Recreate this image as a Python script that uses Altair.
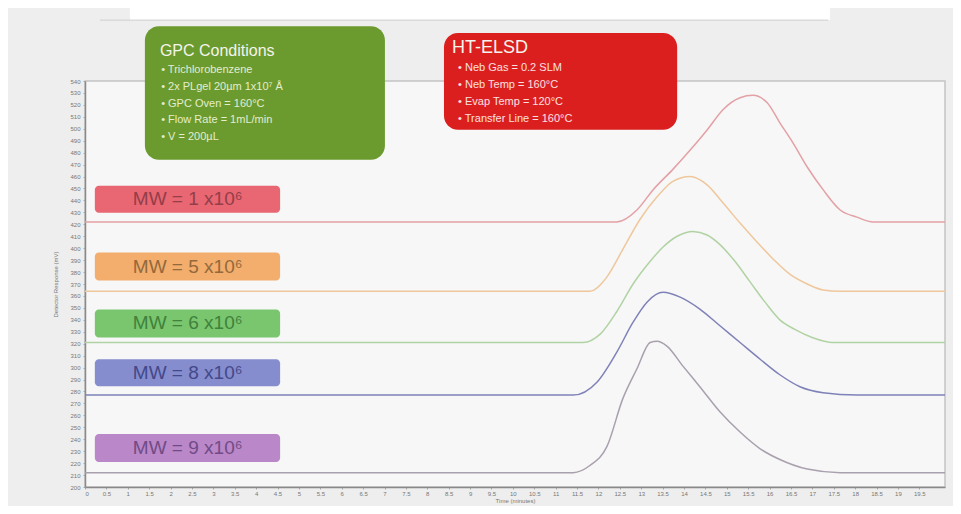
import altair as alt
import pandas as pd

# ---------------- data ----------------
series_names = ["MW = 1 x10⁶", "MW = 5 x10⁶", "MW = 6 x10⁶", "MW = 8 x10⁶", "MW = 9 x10⁶"]

red_t = [0, 12.43, 12.90, 13.28, 13.74, 14.14, 14.54, 14.91, 15.31, 15.61, 15.94, 16.24, 16.55, 16.88, 17.25, 17.65, 18.04, 18.42, 20.1]
red_v = [422, 422, 432, 449, 466, 482, 499, 516, 526, 528, 522, 505, 488, 468, 449, 432, 426, 422, 422]

orange_t = [0, 11.80, 12.20, 12.57, 12.97, 13.37, 13.74, 14.14, 14.54, 14.91, 15.31, 15.71, 16.08, 16.48, 16.88, 17.25, 17.65, 20.1]
orange_v = [364, 364, 376, 399, 424, 443, 456, 460, 453, 438, 421, 405, 391, 378, 370, 365, 364, 364]

green_t = [0, 11.64, 12.04, 12.43, 12.81, 13.21, 13.51, 13.84, 14.21, 14.54, 14.84, 15.19, 15.54, 15.89, 16.24, 16.59, 17.01, 17.48, 20.1]
green_v = [321, 321, 328, 347, 370, 389, 401, 410, 414, 411, 403, 389, 372, 355, 340, 332, 325, 321, 321]

blue_t = [0, 11.41, 11.97, 12.43, 12.81, 13.14, 13.51, 13.91, 14.37, 14.84, 15.31, 15.78, 16.24, 16.71, 17.25, 18.04, 20.1]
blue_v = [277, 277, 288, 313, 338, 355, 363, 359, 349, 335, 321, 307, 294, 284, 279, 277, 277]

purple_t = [0, 11.41, 11.80, 12.20, 12.57, 12.90, 13.21, 13.37, 13.60, 13.98, 14.37, 14.84, 15.31, 15.78, 16.24, 16.88, 17.65, 20.1]
purple_v = [212, 212, 218, 234, 274, 299, 321, 322, 318, 301, 284, 263, 246, 232, 223, 215, 212, 212]

x_ticks = [i * 0.5 for i in range(40)]          # 0 .. 19.5
y_ticks = list(range(200, 541, 10))             # 200 .. 540

gpc_title = "GPC Conditions"
gpc_items = ["Trichlorobenzene", "2x PLgel 20µm 1x10⁷ Å", "GPC Oven = 160°C",
             "Flow Rate = 1mL/min", "V = 200µL"]
elsd_title = "HT-ELSD"
elsd_items = ["Neb Gas = 0.2 SLM", "Neb Temp = 160°C", "Evap Temp = 120°C",
              "Transfer Line = 160°C"]

# ---------------- styles / layout ----------------
line_colors = ["#e3a0a5", "#efc79c", "#b1d3a4", "#7f82b8", "#a9a0ae"]
box_fill = ["#e85f6b", "#f2aa66", "#72c367", "#8087cb", "#b682c5"]
box_text = ["#8a3a44", "#8a6236", "#3a7a36", "#3c4282", "#6a4580"]

X_DOM = [0, 20.1]
Y_DOM = [200, 540]
xs = alt.Scale(domain=X_DOM, nice=False, zero=False)
ys = alt.Scale(domain=Y_DOM, nice=False, zero=False)
FONT = "Liberation Sans"

# ---------------- tables ----------------
rows = []
for name, ts, vs in zip(series_names,
                        [red_t, orange_t, green_t, blue_t, purple_t],
                        [red_v, orange_v, green_v, blue_v, purple_v]):
    for t, v in zip(ts, vs):
        rows.append({"series": name, "time": t, "value": v})
curves = pd.DataFrame(rows)

mw_y = [(452.3, 429.7), (396.3, 372.9), (348.7, 325.3), (306.9, 284.4), (244.3, 220.9)]
mw_df = pd.DataFrame({
    "label": series_names,
    "x": [0.23] * 5, "x2": [4.56] * 5,
    "y": [a for a, b in mw_y], "y2": [b for a, b in mw_y],
    "tx": [2.40] * 5, "ty": [(a + b) / 2 for a, b in mw_y],
    "fill": box_fill, "tcol": box_text,
})

cond_boxes = pd.DataFrame({
    "x": [1.40, 8.39], "x2": [7.01, 13.84],
    "y": [585.9, 580.1], "y2": [474.0, 499.1],
    "fill": ["#6b9b2e", "#db1f1f"],
})
cond_titles = pd.DataFrame({
    "text": [gpc_title, elsd_title],
    "x": [1.75, 8.58], "y": [565.5, 568.0], "size": [16, 18],
})
gpc_y = [549.0, 535.0, 521.0, 507.0, 493.0]
elsd_y = [551.0, 537.0, 522.5, 508.0]
cond_items = pd.DataFrame({
    "text": ["•   " + s for s in gpc_items] + ["•   " + s for s in elsd_items],
    "x": [1.78] * len(gpc_items) + [8.72] * len(elsd_items),
    "y": gpc_y + elsd_y,
    "col": ["#e3edcf"] * len(gpc_items) + ["#fbe0e0"] * len(elsd_items),
})
banner = pd.DataFrame({"x": [1.05], "x2": [17.41], "y": [603.0], "y2": [591.0]})
banner_line = pd.DataFrame({"x": [0.35], "x2": [17.37], "y": [591.0]})

# ---------------- axes ----------------
base_x_axis = alt.Axis(values=x_ticks, format="~g", labelFontSize=6, labelColor="#777",
                       labelFont=FONT, labelOverlap=False, labelPadding=1, tickSize=2,
                       tickColor="#aaa", domainColor="#8a8a8a", domainWidth=1.5,
                       grid=False, title="Time (minutes)", titleFontSize=6,
                       titleFont=FONT, titleFontWeight="normal", titleColor="#777",
                       titlePadding=1)
base_y_axis = alt.Axis(values=y_ticks, labelFontSize=6, labelColor="#777", labelFont=FONT,
                       labelOverlap=False, labelPadding=3, tickSize=2, tickColor="#aaa",
                       domainColor="#8a8a8a", domainWidth=1.5, grid=False,
                       title="Detector Response (mV)", titleFontSize=6, titleFont=FONT,
                       titleFontWeight="normal", titleColor="#777", titlePadding=11)


def X(f):
    return alt.X(f, scale=xs, axis=base_x_axis)


def Y(f):
    return alt.Y(f, scale=ys, axis=base_y_axis)


# ---------------- layers ----------------
lines = alt.Chart(curves).mark_line(interpolate="monotone", strokeWidth=1.5).encode(
    x=X("time:Q"),
    y=Y("value:Q"),
    color=alt.Color("series:N", scale=alt.Scale(domain=series_names, range=line_colors),
                    legend=None),
)

banner_rect = alt.Chart(banner).mark_rect(color="#ffffff").encode(
    x=X("x:Q"), x2="x2", y=Y("y:Q"), y2="y2")
banner_rule = alt.Chart(banner_line).mark_rule(color="#cfcfcf", strokeWidth=1).encode(
    x=X("x:Q"), x2="x2", y=Y("y:Q"))

mw_rects = alt.Chart(mw_df).mark_rect(cornerRadius=4, opacity=0.95).encode(
    x=X("x:Q"), x2="x2", y=Y("y:Q"), y2="y2",
    color=alt.Color("fill:N", scale=None))
mw_texts = alt.Chart(mw_df).mark_text(font=FONT, fontSize=19, align="center",
                                       baseline="middle", opacity=0.9).encode(
    x=X("tx:Q"), y=Y("ty:Q"), text="label:N",
    color=alt.Color("tcol:N", scale=None))

cond_rects = alt.Chart(cond_boxes).mark_rect(cornerRadius=14).encode(
    x=X("x:Q"), x2="x2", y=Y("y:Q"), y2="y2",
    color=alt.Color("fill:N", scale=None))
cond_title_txt = alt.Chart(cond_titles).mark_text(font=FONT, align="left",
                                                   baseline="middle", color="#f4f4ec").encode(
    x=X("x:Q"), y=Y("y:Q"), text="text:N",
    size=alt.Size("size:Q", scale=None))
cond_item_txt = alt.Chart(cond_items).mark_text(font=FONT, fontSize=11, align="left",
                                                 baseline="middle").encode(
    x=X("x:Q"), y=Y("y:Q"), text="text:N",
    color=alt.Color("col:N", scale=None))

chart = alt.layer(
    lines, banner_rect, banner_rule, mw_rects, mw_texts,
    cond_rects, cond_title_txt, cond_item_txt,
).properties(
    width=860, height=406,
    padding={"left": 77, "top": 73, "right": 8, "bottom": 19},
    autosize=alt.AutoSizeParams(type="none"),
    background="#eeeeee",
).configure_view(
    fill="#f7f7f7", stroke="#c4c4c4", strokeWidth=1.5,
).configure_axis(
    labelOverlap=False,
)

chart.save("out.html", embed_options={"renderer": "svg", "actions": False})
